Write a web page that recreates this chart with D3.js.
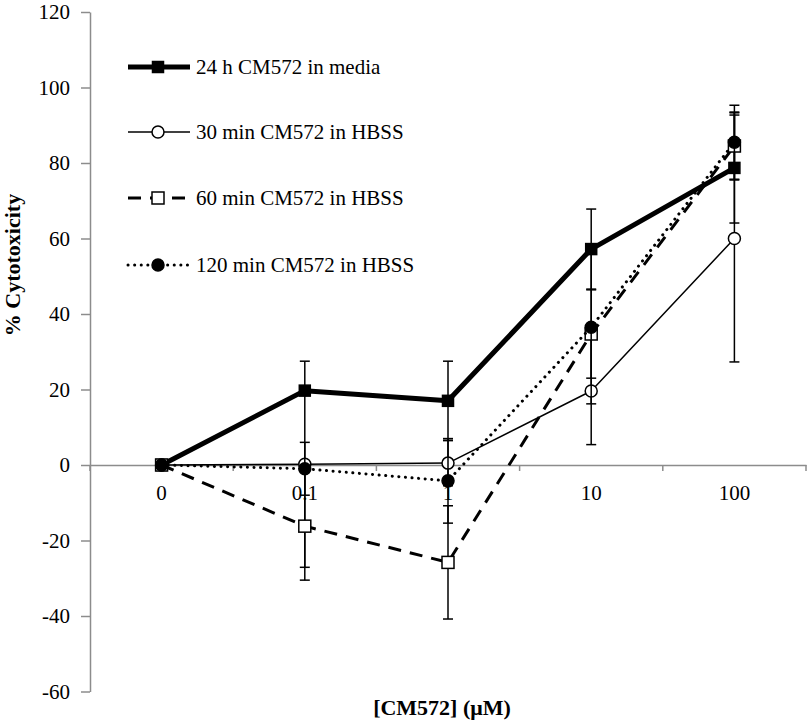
<!DOCTYPE html>
<html>
<head>
<meta charset="utf-8">
<script src="https://cdn.jsdelivr.net/npm/d3@7"></script>
<style>
  html, body { margin: 0; padding: 0; background: #fff; }
  svg { display: block; }
  svg text { font-family: "Liberation Serif", "Times New Roman", serif; }
</style>
</head>
<body>
<svg id="chart" width="809" height="724"></svg>
<script>
// ---- data ----
const categories = ["0", "0.1", "1", "10", "100"];
const yTicks = [-60, -40, -20, 0, 20, 40, 60, 80, 100, 120];
const seriesNames = ["24 h CM572 in media", "30 min CM572 in HBSS", "60 min CM572 in HBSS", "120 min CM572 in HBSS"];
const values24h = [0, 19.7, 17.0, 57.2, 78.7];
const errors24h = [0, 0, 10.5, 10.6, 14.6];
const values30 = [0, 0.2, 0.5, 19.6, 60.0];
const errors30 = [0, 27.3, 6.0, 14.2, 32.7];
const values60 = [0, -16.2, -25.8, 34.7, 84.5];
const errors60 = [0, 14.3, 15.0, 11.7, 9.0];
const values120 = [0, -1.0, -4.2, 36.5, 85.5];
const errors120 = [0, 7.0, 11.2, 20.3, 9.8];

const svg = d3.select("#chart");
const x = d3.scaleBand().domain(categories).range([90, 806]);
const y = d3.scaleLinear().domain([-60, 120]).range([691.5, 12]);
const cx = c => x(c) + x.bandwidth() / 2;
const axisColor = "#8c8c8c";
const serif = "'Liberation Serif', 'Times New Roman', serif";

// y axis
const yAxis = svg.append("g").attr("transform", "translate(90,0)")
  .call(d3.axisLeft(y).tickValues(yTicks).tickSize(9).tickSizeOuter(0).tickPadding(11).tickFormat(d => String(d)));
yAxis.attr("font-family", null);
yAxis.select(".domain").attr("stroke", axisColor).attr("stroke-width", 1.5);
yAxis.selectAll(".tick line").attr("stroke", axisColor).attr("stroke-width", 1.5);
yAxis.selectAll(".tick text").attr("font-size", 21).attr("fill", "#000").style("font-family", serif);

// x axis at y = 0
const x0 = y(0);
const xAxis = svg.append("g").attr("transform", `translate(0,${x0})`)
  .call(d3.axisBottom(x).tickSize(0).tickSizeOuter(0).tickPadding(20));
xAxis.attr("font-family", null);
xAxis.select(".domain").attr("stroke", axisColor).attr("stroke-width", 1.5);
xAxis.selectAll(".tick text").attr("font-size", 21).attr("fill", "#000").style("font-family", serif);
// boundary ticks
const bounds = categories.map(c => x(c)).concat([x.range()[1]]);
svg.append("g").selectAll("line").data(bounds).join("line")
  .attr("x1", d => d).attr("x2", d => d)
  .attr("y1", x0).attr("y2", x0 + 6)
  .attr("stroke", axisColor).attr("stroke-width", 1.5);

// series definitions (styles)
const series = [
  { name: seriesNames[0], vals: values24h, errs: errors24h, width: 5, dash: null, cap: "butt", marker: "square", fill: "#000", size: 11 },
  { name: seriesNames[1], vals: values30, errs: errors30, width: 1.5, dash: null, cap: "butt", marker: "circle", fill: "#fff", size: 12 },
  { name: seriesNames[2], vals: values60, errs: errors60, width: 3, dash: "13,9", cap: "butt", marker: "square", fill: "#fff", size: 12 },
  { name: seriesNames[3], vals: values120, errs: errors120, width: 3, dash: "0.1,6.5", cap: "round", marker: "circle", fill: "#000", size: 12 }
];

const line = d3.line().x(d => cx(d.c)).y(d => y(d.v));

function drawMarker(g, s, px, py) {
  if (s.marker === "square") {
    g.append("rect").attr("x", px - s.size / 2).attr("y", py - s.size / 2)
      .attr("width", s.size).attr("height", s.size)
      .attr("fill", s.fill).attr("stroke", "#000").attr("stroke-width", 1.5);
  } else {
    g.append("circle").attr("cx", px).attr("cy", py).attr("r", s.size / 2)
      .attr("fill", s.fill).attr("stroke", "#000").attr("stroke-width", 1.5);
  }
}

series.forEach(s => {
  const g = svg.append("g");
  const pts = categories.map((c, i) => ({ c, v: s.vals[i], e: s.errs[i] }));
  // error bars
  pts.filter(p => p.e > 0).forEach(p => {
    const px = cx(p.c);
    const top = y(p.v + p.e), bot = y(p.v - p.e);
    g.append("line").attr("x1", px).attr("x2", px).attr("y1", top).attr("y2", bot)
      .attr("stroke", "#000").attr("stroke-width", 1.5);
    [top, bot].forEach(yy => g.append("line").attr("x1", px - 5).attr("x2", px + 5)
      .attr("y1", yy).attr("y2", yy).attr("stroke", "#000").attr("stroke-width", 1.5));
  });
  g.append("path").datum(pts).attr("d", line).attr("fill", "none")
    .attr("stroke", "#000").attr("stroke-width", s.width)
    .attr("stroke-dasharray", s.dash).attr("stroke-linecap", s.cap).attr("stroke-linejoin", "round");
  pts.forEach(p => drawMarker(g, s, cx(p.c), y(p.v)));
});

// legend
const legendY = [67, 132, 198, 265];
series.forEach((s, i) => {
  const g = svg.append("g");
  const ly = legendY[i];
  g.append("line").attr("x1", 128).attr("x2", 190).attr("y1", ly).attr("y2", ly)
    .attr("stroke", "#000").attr("stroke-width", s.width)
    .attr("stroke-dasharray", s.dash).attr("stroke-linecap", s.cap);
  drawMarker(g, s, 158, ly);
  g.append("text").attr("x", 196).attr("y", ly).attr("dy", "0.35em")
    .attr("font-size", 21).style("font-family", serif).text(s.name);
});

// axis titles
svg.append("text").attr("transform", "translate(20,265) rotate(-90)")
  .attr("text-anchor", "middle").attr("font-weight", "bold").attr("font-size", 22)
  .style("font-family", serif).text("% Cytotoxicity");
svg.append("text").attr("x", 442).attr("y", 707).attr("dy", "0.35em")
  .attr("text-anchor", "middle").attr("font-weight", "bold").attr("font-size", 22)
  .style("font-family", serif).text("[CM572] (μM)");
</script>
</body>
</html>
